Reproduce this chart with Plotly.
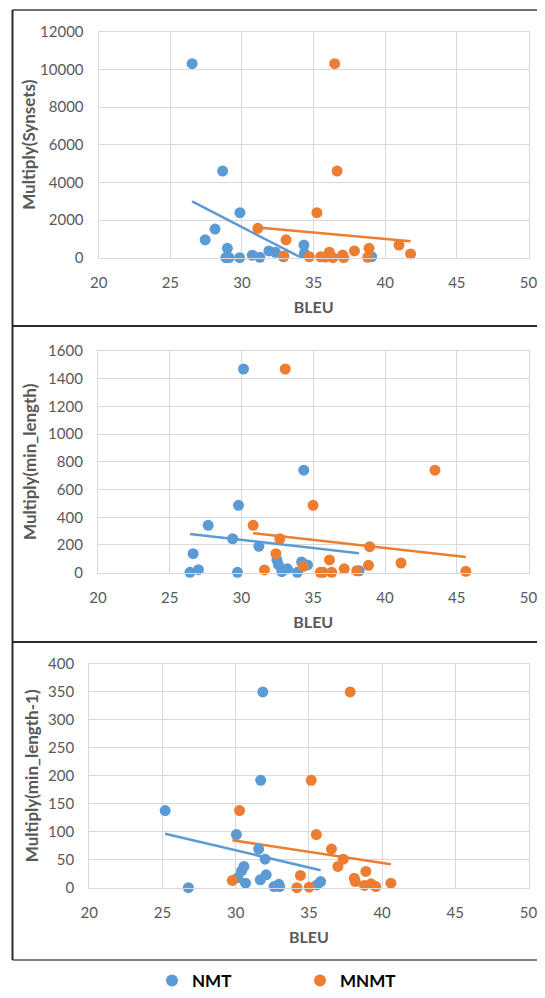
import numpy as np
import plotly.graph_objects as go

# ---------------- data ----------------
# Panel 1: Multiply(Synsets)
syn_nmt_bleu = [26.52, 28.65, 29.86, 28.12, 27.43, 28.98, 28.87, 29.10, 29.84, 30.72, 31.25, 31.88, 32.34, 32.90, 34.33, 34.36, 39.05]
syn_nmt_val = [10300, 4600, 2390, 1520, 950, 500, 0, 0, 0, 130, 20, 360, 290, 50, 670, 230, 50]
syn_mnmt_bleu = [36.47, 36.64, 35.23, 31.11, 33.08, 32.92, 34.70, 35.50, 35.82, 36.10, 36.35, 37.03, 37.10, 37.85, 38.87, 38.78, 40.96, 41.77]
syn_mnmt_val = [10300, 4600, 2390, 1560, 950, 90, 50, 50, 30, 290, 0, 140, 0, 360, 500, 20, 670, 200]

# Panel 2: Multiply(min_length)
ml_nmt_bleu = [30.14, 34.34, 29.79, 27.68, 29.38, 31.21, 26.63, 26.41, 27.00, 29.72, 32.47, 32.58, 32.81, 33.20, 33.89, 34.19, 34.60, 38.19]
ml_nmt_val = [1470, 740, 486, 342, 245, 190, 137, 3, 22, 3, 92, 56, 7, 28, 3, 78, 56, 14]
ml_mnmt_bleu = [33.05, 43.48, 34.99, 30.81, 32.67, 38.93, 32.40, 36.13, 41.12, 38.85, 34.30, 31.60, 37.16, 35.49, 35.68, 36.29, 38.03, 45.63]
ml_mnmt_val = [1470, 740, 486, 342, 245, 188, 137, 92, 70, 53, 45, 20, 28, 3, 3, 3, 14, 10]

# Panel 3: Multiply(min_length-1)
ml1_nmt_bleu = [31.85, 31.71, 25.18, 30.05, 31.57, 32.01, 30.56, 30.40, 30.15, 32.08, 31.68, 30.67, 26.77, 32.62, 32.95, 33.00, 35.55, 35.80]
ml1_nmt_val = [350, 192, 138, 95, 69, 51, 38, 30, 18, 23, 14, 8, 0, 2, 6, 2, 5, 11]
ml1_mnmt_bleu = [37.82, 35.16, 30.26, 35.51, 36.54, 37.35, 36.98, 34.42, 29.77, 38.89, 38.10, 38.17, 38.80, 39.24, 39.57, 40.60, 34.18, 35.02]
ml1_mnmt_val = [350, 192, 138, 95, 69, 51, 38, 22, 13, 29, 17, 11, 4, 7, 2, 8, 0, 1]

series_names = ["NMT", "MNMT"]
y_titles = ["Multiply(Synsets)", "Multiply(min_length)", "Multiply(min_length-1)"]
x_title = "BLEU"
x_ticks = [20, 25, 30, 35, 40, 45, 50]
y_ticks_1 = [0, 2000, 4000, 6000, 8000, 10000, 12000]
y_ticks_2 = [0, 200, 400, 600, 800, 1000, 1200, 1400, 1600]
y_ticks_3 = [0, 50, 100, 150, 200, 250, 300, 350, 400]

# ---------------- style / layout ----------------
OFF = 8  # default page body margin
W, H = 545 - 2 * OFF, 998 - 2 * OFF
BLUE, ORANGE = "#5B9BD5", "#ED7D31"
GRID = "#D9D9D9"
TXT = "#595959"
FONT = "Lato"

# plot-area pixel boxes in page pixels (left, right, top, bottom)
boxes = [
    (98.7, 528.5, 31.7, 257.7),
    (98.0, 528.5, 351.0, 572.7),
    (89.3, 528.5, 664.0, 887.7),
]
y_title_standoff = [0, 7, 5]

def px(v):
    return (v - OFF) / W

def py(v):
    return 1 - (v - OFF) / H

panels = [
    (syn_nmt_bleu, syn_nmt_val, syn_mnmt_bleu, syn_mnmt_val, y_ticks_1),
    (ml_nmt_bleu, ml_nmt_val, ml_mnmt_bleu, ml_mnmt_val, y_ticks_2),
    (ml1_nmt_bleu, ml1_nmt_val, ml1_mnmt_bleu, ml1_mnmt_val, y_ticks_3),
]

fig = go.Figure()

for i, (xb, yb, xo, yo, yt) in enumerate(panels):
    sfx = "" if i == 0 else str(i + 1)
    xa, ya = "x" + sfx, "y" + sfx
    pairs = [(series_names[0], xb, yb, BLUE), (series_names[1], xo, yo, ORANGE)]
    for name, xs, ys, col in pairs:
        xs_arr = np.asarray(xs, dtype=float)
        ys_arr = np.asarray(ys, dtype=float)
        # linear trendline (least squares) across the series' BLEU range
        k, c = np.polyfit(xs_arr, ys_arr, 1)
        tx = np.array([xs_arr.min(), xs_arr.max()])
        fig.add_trace(go.Scatter(
            x=tx, y=k * tx + c, mode="lines", xaxis=xa, yaxis=ya,
            line=dict(color=col, width=2.5), showlegend=False, hoverinfo="skip",
        ))
    for name, xs, ys, col in pairs:
        fig.add_trace(go.Scatter(
            x=xs, y=ys, mode="markers", name=name, xaxis=xa, yaxis=ya,
            marker=dict(color=col, size=11, line=dict(width=0)),
            cliponaxis=False, showlegend=(i == 0), legendgroup=name,
        ))

    l, r, t, b = boxes[i]
    ax_common = dict(
        showgrid=True, gridcolor=GRID, gridwidth=1.3,
        showline=True, linecolor=GRID, linewidth=1.3, mirror=True,
        zeroline=False,
        ticks="outside", ticklen=11, tickcolor="rgba(0,0,0,0)",
        tickfont=dict(family=FONT, size=15, color=TXT),
        ticklabeloverflow="allow",
    )
    fig.layout["xaxis" + sfx] = dict(
        ax_common, domain=[px(l), px(r)], anchor=ya, range=[20, 50],
        tickmode="array", tickvals=x_ticks, ticktext=[str(v) for v in x_ticks],
        title=dict(text="<b>" + x_title + "</b>", font=dict(family=FONT, size=16, color=TXT), standoff=11),
    )
    fig.layout["yaxis" + sfx] = dict(
        ax_common, domain=[py(b), py(t)], anchor=xa, range=[0, yt[-1]],
        tickmode="array", tickvals=yt, ticktext=[str(v) for v in yt],
        title=dict(text="<b>" + y_titles[i] + "</b>", font=dict(family=FONT, size=17, color=TXT),
                   standoff=y_title_standoff[i]),
    )

# frame lines of the three chart boxes (page pixels)
frame = [
    (12.5, 10, 545, 10, "#6E6E6E"),
    (12.5, 326, 545, 326, "#2A2A2A"),
    (12.5, 642, 545, 642, "#2A2A2A"),
    (12.5, 960, 545, 960, "#808080"),
    (12.5, 10, 12.5, 960, "#2A2A2A"),
]
for x0, y0, x1, y1, col in frame:
    fig.add_shape(type="line", xref="paper", yref="paper",
                  x0=max(px(x0), 0), x1=min(px(x1), 1), y0=py(y0), y1=py(y1),
                  line=dict(color=col, width=2))

fig.update_layout(
    width=W, height=H, autosize=False,
    margin=dict(l=0, r=0, t=0, b=0, autoexpand=False),
    paper_bgcolor="white", plot_bgcolor="white",
    font=dict(family=FONT, color=TXT),
    legend=dict(
        orientation="h", x=px(152), xanchor="left", y=-9 / H, yanchor="bottom",
        font=dict(family=FONT, size=17, color="#000000", weight="bold"),
        entrywidth=103, entrywidthmode="pixels", bgcolor="rgba(0,0,0,0)",
        itemsizing="constant", borderwidth=0,
    ),
)

fig.write_html("out.html", config={"displayModeBar": False})
